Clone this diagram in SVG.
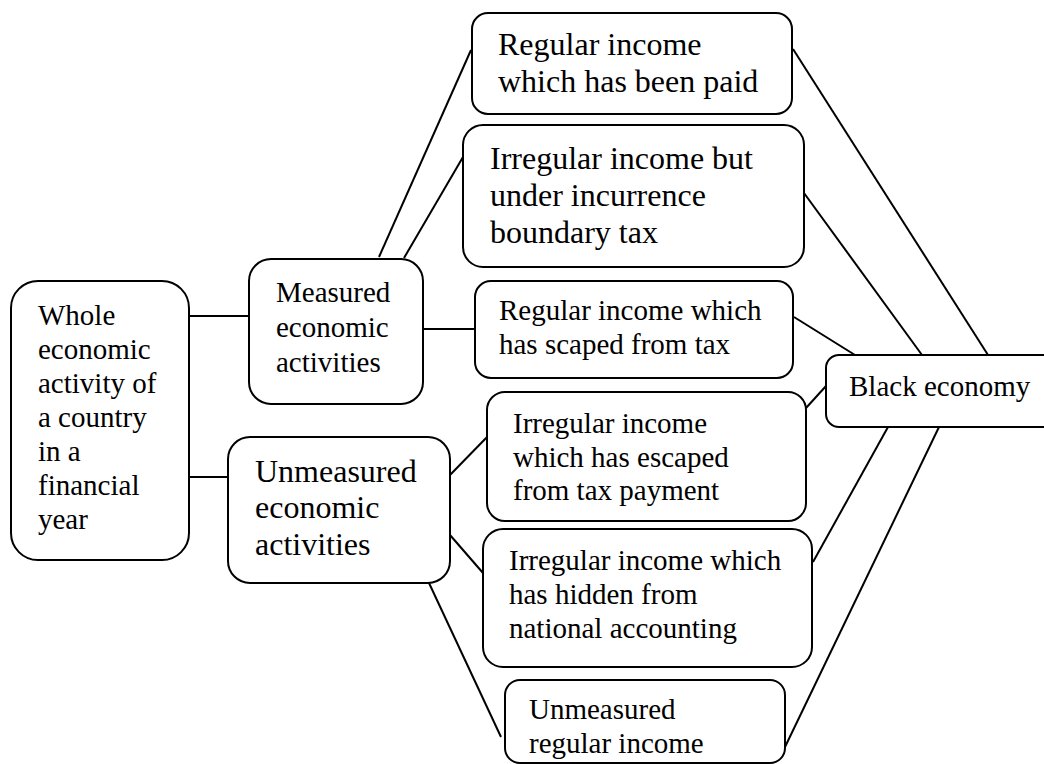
<svg xmlns="http://www.w3.org/2000/svg" width="1044" height="764" viewBox="0 0 1044 764">
<style>
.box{fill:#fff;stroke:#000;stroke-width:2}
.t{font-family:"Liberation Serif","Times New Roman",serif;font-size:29px;fill:#000}
.l{font-family:"Liberation Serif","Times New Roman",serif;font-size:32px;fill:#000}
.c{stroke:#000;stroke-width:2;fill:none}
</style>
<rect width="1044" height="764" fill="#fff"/>
<g id="connectors">
<line class="c" x1="190" y1="316" x2="249" y2="316"/>
<line class="c" x1="187" y1="477" x2="228" y2="477"/>
<line class="c" x1="379" y1="257" x2="471" y2="50"/>
<line class="c" x1="404" y1="258" x2="463" y2="157"/>
<line class="c" x1="423" y1="329" x2="475" y2="329"/>
<line class="c" x1="450" y1="475" x2="489" y2="435"/>
<line class="c" x1="450" y1="535" x2="483" y2="573"/>
<line class="c" x1="429" y1="583" x2="501" y2="737"/>
<line class="c" x1="793" y1="49" x2="988" y2="355"/>
<line class="c" x1="804" y1="193" x2="922" y2="355"/>
<line class="c" x1="794" y1="317" x2="855" y2="355"/>
<line class="c" x1="806" y1="408" x2="826" y2="386"/>
<line class="c" x1="813" y1="562" x2="888" y2="427"/>
<line class="c" x1="785" y1="747" x2="939" y2="427"/>
</g>
<g id="whole">
<rect class="box" x="11" y="281" width="178" height="279" rx="27"/>
<text class="t" x="38" y="325">Whole</text>
<text class="t" x="38" y="359">economic</text>
<text class="t" x="38" y="393">activity of</text>
<text class="t" x="38" y="427">a country</text>
<text class="t" x="38" y="461">in a</text>
<text class="t" x="38" y="495">financial</text>
<text class="t" x="38" y="529">year</text>
</g>
<g id="measured">
<rect class="box" x="249" y="259" width="174" height="145" rx="22"/>
<text class="t" x="276" y="302">Measured</text>
<text class="t" x="276" y="337">economic</text>
<text class="t" x="276" y="372">activities</text>
</g>
<g id="unmeasured">
<rect class="box" x="228" y="437" width="222" height="146" rx="22"/>
<text class="l" x="255" y="482">Unmeasured</text>
<text class="l" x="255" y="518">economic</text>
<text class="l" x="255" y="555">activities</text>
</g>
<g id="regular-paid">
<rect class="box" x="472" y="13" width="320" height="101" rx="16"/>
<text class="l" x="498" y="55">Regular income</text>
<text class="l" x="498" y="92">which has been paid</text>
</g>
<g id="irregular-boundary">
<rect class="box" x="463" y="125" width="341" height="142" rx="20"/>
<text class="l" x="490" y="169">Irregular income but</text>
<text class="l" x="490" y="206">under incurrence</text>
<text class="l" x="490" y="243">boundary tax</text>
</g>
<g id="regular-scaped">
<rect class="box" x="475" y="281" width="318" height="97" rx="16"/>
<text class="t" x="499" y="320">Regular income which</text>
<text class="t" x="499" y="354">has scaped from tax</text>
</g>
<g id="irregular-escaped">
<rect class="box" x="487" y="392" width="319" height="129" rx="18"/>
<text class="t" x="513" y="433">Irregular income</text>
<text class="t" x="513" y="467">which has escaped</text>
<text class="t" x="513" y="500">from tax payment</text>
</g>
<g id="irregular-hidden">
<rect class="box" x="483" y="529" width="329" height="138" rx="20"/>
<text class="t" x="509" y="570">Irregular income which</text>
<text class="t" x="509" y="604">has hidden from</text>
<text class="t" x="509" y="638">national accounting</text>
</g>
<g id="unmeasured-regular">
<rect class="box" x="505" y="680" width="280" height="83" rx="15"/>
<text class="t" x="529" y="719">Unmeasured</text>
<text class="t" x="529" y="753">regular income</text>
</g>
<g id="black-economy">
<rect class="box" x="826" y="355" width="240" height="72" rx="13"/>
<text class="t" x="849" y="396">Black economy</text>
</g>
</svg>
